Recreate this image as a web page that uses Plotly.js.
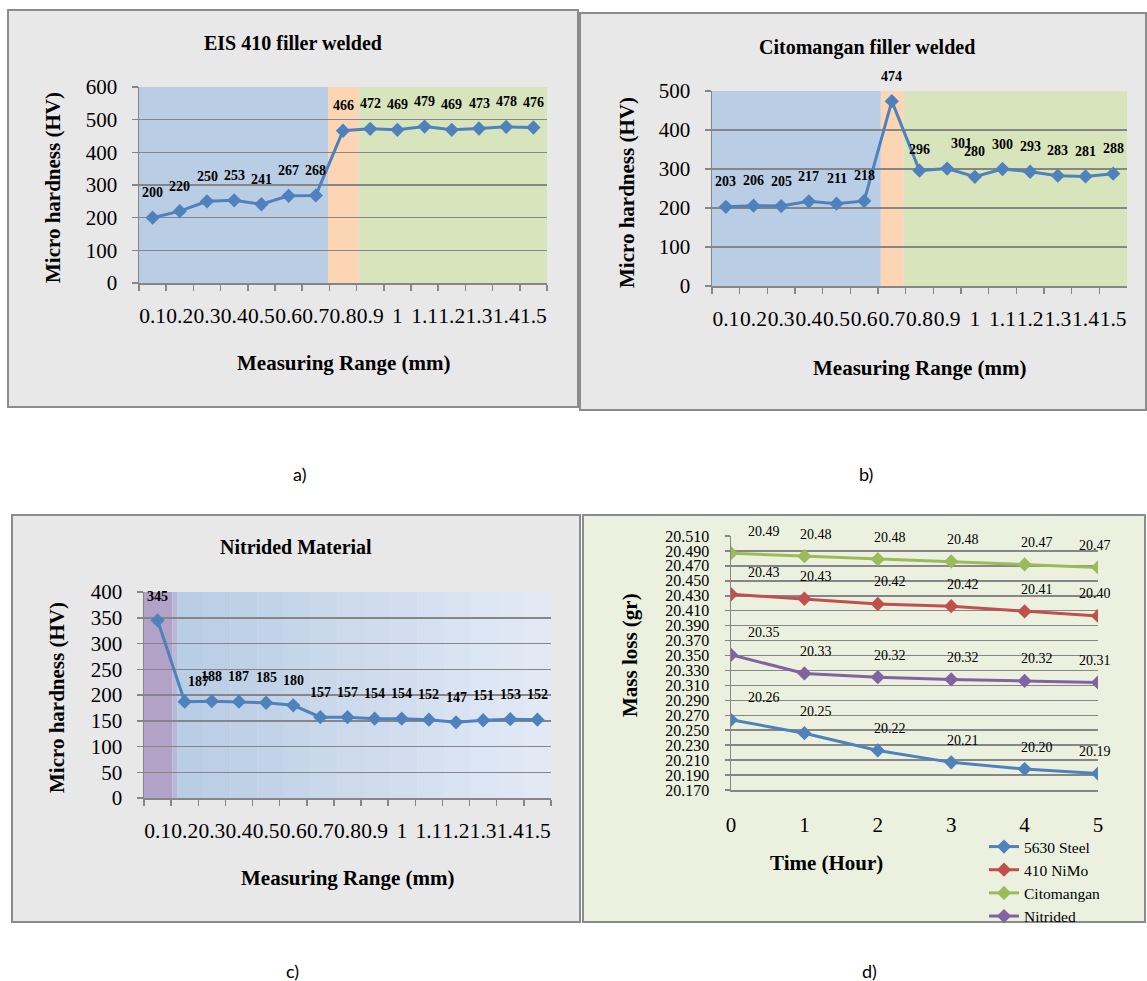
<!DOCTYPE html>
<html><head><meta charset="utf-8">
<script src="https://cdn.plot.ly/plotly-3.0.1.min.js"></script>
<style>html,body{margin:0;padding:0;background:#fff}#chart{width:1147px;height:981px}</style>
</head><body><div id="chart"></div>
<script>
// ---------------- data ----------------
const rangeLabels = ['0.1','0.2','0.3','0.4','0.5','0.6','0.7','0.8','0.9','1','1.1','1.2','1.3','1.4','1.5'];
const eisHardness = [200,220,250,253,241,267,268,466,472,469,479,469,473,478,476];
const citoHardness = [203,206,205,217,211,218,474,296,301,280,300,293,283,281,288];
const nitridedHardness = [345,187,188,187,185,180,157,157,154,154,152,147,151,153,152];
const hours = [0,1,2,3,4,5];
const steel5630 = [20.264,20.246,20.223,20.207,20.198,20.192];
const niMo410 = [20.432,20.426,20.419,20.416,20.409,20.403];
const citomangan = [20.487,20.483,20.479,20.476,20.472,20.468];
const nitrided = [20.351,20.326,20.321,20.318,20.316,20.314];
const seriesNames = ['5630 Steel','410 NiMo','Citomangan','Nitrided'];
const chartTitles = ['EIS 410 filler welded','Citomangan filler welded','Nitrided Material'];
const captions = ['a)','b)','c)','d)'];

// ---------------- styling ----------------
const W = 1147, H = 981;
const px = x => x / W, py = y => 1 - y / H;
const SERIF = "'Times New Roman', 'Liberation Serif', serif";
const GRID = '#868686';
const BLUE = '#4f81bd';
const colors = ['#4f81bd', '#c0504d', '#9bbb59', '#8064a2'];

function catAxis(x0, x1, anchor) {
  return {domain:[px(x0), px(x1)], anchor, type:'category', categoryorder:'array', categoryarray:rangeLabels,
    range:[-0.5, 14.5], tickmode:'linear', tick0:0, dtick:1, tickson:'boundaries', ticks:'outside', ticklen:6,
    tickwidth:1.5, tickcolor:GRID, showline:true, linecolor:GRID, linewidth:1.5, showgrid:false, zeroline:false,
    tickangle:0, ticklabelstandoff:13, tickfont:{family:SERIF, size:21.5, color:'#000'}, fixedrange:true};
}
function valAxis(y0, y1, anchor, range, dtick, extra) {
  return Object.assign({domain:[py(y1), py(y0)], anchor, range, tick0:range[0], dtick, showgrid:true, gridcolor:GRID,
    gridwidth:1.5, showline:true, linecolor:GRID, linewidth:1.5, ticks:'outside', ticklen:6, tickwidth:1.5,
    tickcolor:GRID, zeroline:false, ticklabelstandoff:10, tickfont:{family:SERIF, size:21, color:'#000'}, fixedrange:true}, extra || {});
}

const layout = {
  width: W, height: H, margin:{l:0, r:0, t:0, b:0}, paper_bgcolor:'#ffffff', plot_bgcolor:'rgba(0,0,0,0)',
  showlegend:true,
  xaxis:  catAxis(139, 547, 'y'),
  yaxis:  valAxis(87, 283, 'x', [0, 600], 100),
  xaxis2: catAxis(712, 1127, 'y2'),
  yaxis2: valAxis(91, 286, 'x2', [0, 500], 100),
  xaxis3: catAxis(144, 551, 'y3'),
  yaxis3: valAxis(592, 798, 'x3', [0, 400], 50),
  xaxis4: {domain:[px(731), px(1098)], anchor:'y4', range:[0, 5], dtick:1, tick0:0, showgrid:false, zeroline:false,
    showline:true, linecolor:GRID, linewidth:1.5, ticks:'', ticklabelstandoff:15,
    tickfont:{family:SERIF, size:21, color:'#000'}, fixedrange:true},
  yaxis4: valAxis(536, 790, 'x4', [20.17, 20.51], 0.02, {tickformat:'.3f', ticklen:5, ticklabelstandoff:12,
    tickfont:{family:SERIF, size:16, color:'#000'}}),
  legend:{x:px(984), y:py(830), xanchor:'left', yanchor:'top', bgcolor:'rgba(0,0,0,0)', borderwidth:0,
    font:{family:SERIF, size:15.5, color:'#000'}, tracegroupgap:0},
  shapes: [], annotations: []
};

// panel frames
const frames = [
  {x0:8, x1:578, y0:10, y1:407, fill:'#e8e8e8'},
  {x0:580, x1:1146, y0:13, y1:410, fill:'#e8e8e8'},
  {x0:12, x1:580, y0:515, y1:922, fill:'#e8e8e8'},
  {x0:583, x1:1145, y0:515, y1:922, fill:'#ebf1de'}
];
frames.forEach(f => layout.shapes.push({type:'rect', xref:'paper', yref:'paper', layer:'below',
  x0:px(f.x0), x1:px(f.x1), y0:py(f.y1), y1:py(f.y0), fillcolor:f.fill, line:{color:'#8c8c8c', width:2}}));

// background zones inside plot areas
function band(xr, a, b, color) {
  layout.shapes.push({type:'rect', xref:xr, yref:xr.replace('x','y') + ' domain', layer:'below',
    x0:a, x1:b, y0:0, y1:1, fillcolor:color, line:{width:0}});
}
band('x', -0.5, 6.45, '#b9cde5'); band('x', 6.45, 7.57, '#fcd5b5'); band('x', 7.57, 14.5, '#d8e4bc');
band('x2', -0.5, 5.6, '#b9cde5'); band('x2', 5.6, 6.42, '#fcd5b5'); band('x2', 6.42, 14.5, '#d8e4bc');
band('x3', -0.5, 0.55, '#b3a2c7'); band('x3', 0.55, 0.72, '#b6b9d8');
(function(){
  const n = 14, c0 = [185,205,229], c1 = [226,233,245];
  for (let k = 0; k < n; k++) {
    const t = k / (n - 1);
    const c = c0.map((v, j) => Math.round(v + (c1[j] - v) * t));
    const a = 0.72 + (14.5 - 0.72) * k / n, b = 0.72 + (14.5 - 0.72) * (k + 1) / n;
    band('x3', a, b, 'rgb(' + c.join(',') + ')');
  }
})();

// traces
const data = [];
function hardnessTrace(vals, xa, ya) {
  data.push({type:'scatter', mode:'lines+markers', x:rangeLabels, y:vals, xaxis:xa, yaxis:ya, showlegend:false,
    line:{color:BLUE, width:3}, marker:{symbol:'diamond', size:11, color:BLUE}, hoverinfo:'skip'});
}
hardnessTrace(eisHardness, 'x', 'y');
hardnessTrace(citoHardness, 'x2', 'y2');
hardnessTrace(nitridedHardness, 'x3', 'y3');
[steel5630, niMo410, citomangan, nitrided].forEach((s, i) => data.push({type:'scatter', mode:'lines+markers',
  x:hours, y:s, xaxis:'x4', yaxis:'y4', name:seriesNames[i], line:{color:colors[i], width:3},
  marker:{symbol:'diamond', size:11, color:colors[i]}, hoverinfo:'skip'}));

// data labels (category position = index of the category in rangeLabels)
const boldLabel = {family:SERIF, size:14, color:'#000', weight:'bold'};
function hardnessLabels(vals, xr, yr, shifts) {
  vals.forEach((v, i) => {
    const s = (shifts && shifts[i]) || {};
    layout.annotations.push({xref:xr, yref:yr, x:rangeLabels.indexOf(rangeLabels[i]), y:v, text:String(v), showarrow:false,
      xanchor:'center', yanchor:'middle', yshift: s.dy !== undefined ? s.dy : 25, xshift: s.dx || 0, font:boldLabel});
  });
}
hardnessLabels(eisHardness, 'x', 'y');
hardnessLabels(citoHardness, 'x2', 'y2', {7:{dy:21}, 8:{dx:14}});
hardnessLabels(nitridedHardness, 'x3', 'y3', {0:{dy:24}, 1:{dx:14, dy:20}});
[steel5630, niMo410, citomangan, nitrided].forEach(s => s.forEach((v, i) => {
  layout.annotations.push({xref:'x4', yref:'y4', x:hours[i], y:v, text:v.toFixed(2), showarrow:false,
    xanchor:'center', yanchor:'middle', yshift:22, xshift: i === 0 ? 33 : (i === 5 ? -3 : 12),
    font:{family:SERIF, size:14, color:'#000'}});
}));

// titles
function paperText(x, y, text, font, extra) {
  layout.annotations.push(Object.assign({xref:'paper', yref:'paper', x:px(x), y:py(y), text, showarrow:false,
    xanchor:'center', yanchor:'middle', font}, extra || {}));
}
const titleFont = {family:SERIF, size:20, color:'#000', weight:'bold'};
const axTitleFont = {family:SERIF, size:21, color:'#000', weight:'bold'};
paperText(293, 43, chartTitles[0], titleFont);
paperText(867, 47, chartTitles[1], titleFont);
paperText(296, 547, chartTitles[2], titleFont);
paperText(343, 363, 'Measuring Range (mm)', axTitleFont);
paperText(919, 368, 'Measuring Range (mm)', axTitleFont);
paperText(347, 878, 'Measuring Range (mm)', axTitleFont);
paperText(826, 863, 'Time (Hour)', axTitleFont);
paperText(53, 188, 'Micro hardness (HV)', axTitleFont, {textangle:-90});
paperText(627, 193, 'Micro hardness (HV)', axTitleFont, {textangle:-90});
paperText(57, 698, 'Micro hardness (HV)', axTitleFont, {textangle:-90});
paperText(630, 655, 'Mass loss (gr)', axTitleFont, {textangle:-90});
const capFont = {family:"Lato, 'Open Sans', sans-serif", size:18, color:'#000'};
paperText(299, 474, captions[0], capFont);
paperText(866, 474, captions[1], capFont);
paperText(292, 971, captions[2], capFont);
paperText(869, 971, captions[3], capFont);

Plotly.newPlot('chart', data, layout, {staticPlot:true, displayModeBar:false});
</script></body></html>
